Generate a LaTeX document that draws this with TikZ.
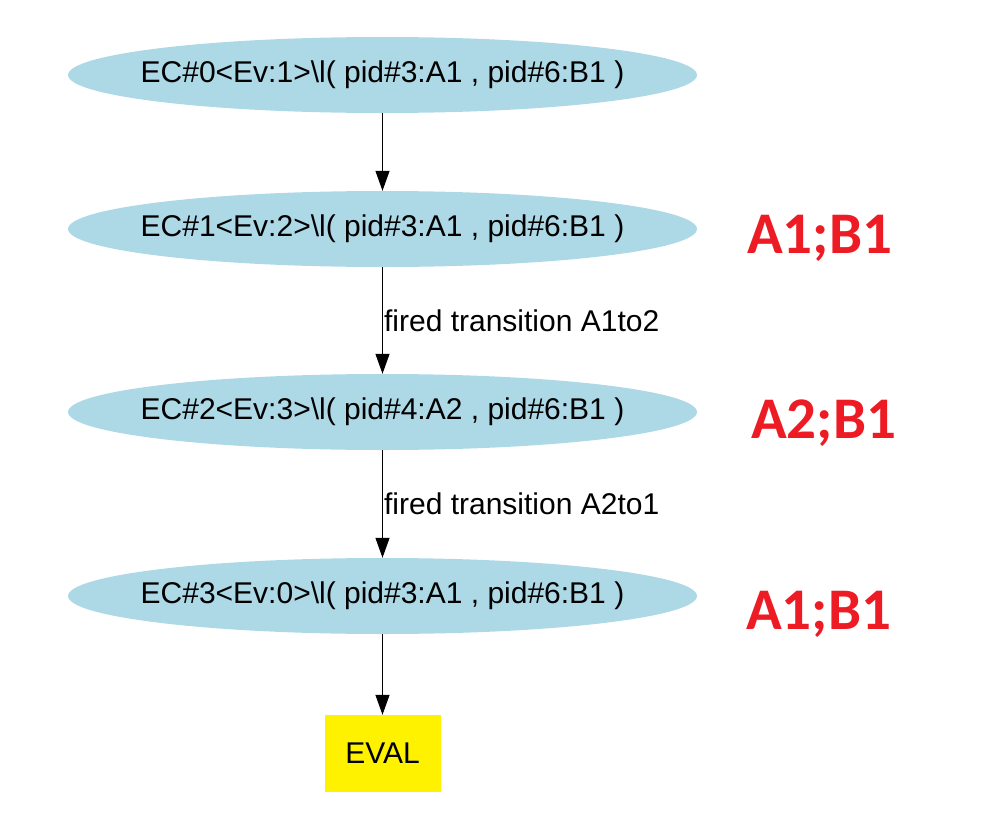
\documentclass[tikz,border=0pt]{standalone}
\usepackage{fontspec}
\setmainfont{Liberation Sans}
\newfontfamily\markfont{Carlito}
\usetikzlibrary{shapes.geometric,arrows.meta}

\begin{document}
\begin{tikzpicture}[x=1pt,y=-1pt,
  state/.style={ellipse,fill=stateblue,minimum width=629pt,minimum height=76pt,inner xsep=-21pt,inner ysep=0pt,font=\fontsize{30}{36}\selectfont},
  evalbox/.style={rectangle,fill=yellow,minimum width=116pt,minimum height=77pt,inner sep=0pt,font=\fontsize{30}{36}\selectfont},
  flow/.style={line width=1.2pt,-{Triangle[length=20pt,width=14pt]}},
  firing/.style={anchor=west,inner sep=1pt,font=\fontsize{30}{36}\selectfont},
  marking/.style={anchor=base west,inner sep=0pt,text=markred,font=\markfont\bfseries\fontsize{59}{70}\selectfont}]
\definecolor{stateblue}{HTML}{ADD8E6};
\definecolor{markred}{HTML}{ED1C24};
\def\cx{382.5};

% page
\useasboundingbox (0,0) rectangle (991,830);

% Execution contexts
\node[state] (ec0) at (\cx,75) {EC\#0<Ev:1>\textbackslash l( pid\#3:A1 , pid\#6:B1 )};
\node[state] (ec1) at (\cx,229) {EC\#1<Ev:2>\textbackslash l( pid\#3:A1 , pid\#6:B1 )};
\node[state] (ec2) at (\cx,412) {EC\#2<Ev:3>\textbackslash l( pid\#4:A2 , pid\#6:B1 )};
\node[state] (ec3) at (\cx,596) {EC\#3<Ev:0>\textbackslash l( pid\#3:A1 , pid\#6:B1 )};

% Evaluation
\node[evalbox] (eval) at (\cx,753.5) {EVAL};

% Transitions
\draw[flow] (ec0) -- (ec1);
\draw[flow] (ec1) -- node[firing] {fired transition A1to2} (ec2);
\draw[flow] (ec2) -- node[firing] {fired transition A2to1} (ec3);
\draw[flow] (ec3) -- (eval);

% Marking
\node[marking] (mark1) at (747,253) {A1;B1};
\node[marking] (mark2) at (751,438) {A2;B1};
\node[marking] (mark3) at (746,629) {A1;B1};
\end{tikzpicture}
\end{document}
